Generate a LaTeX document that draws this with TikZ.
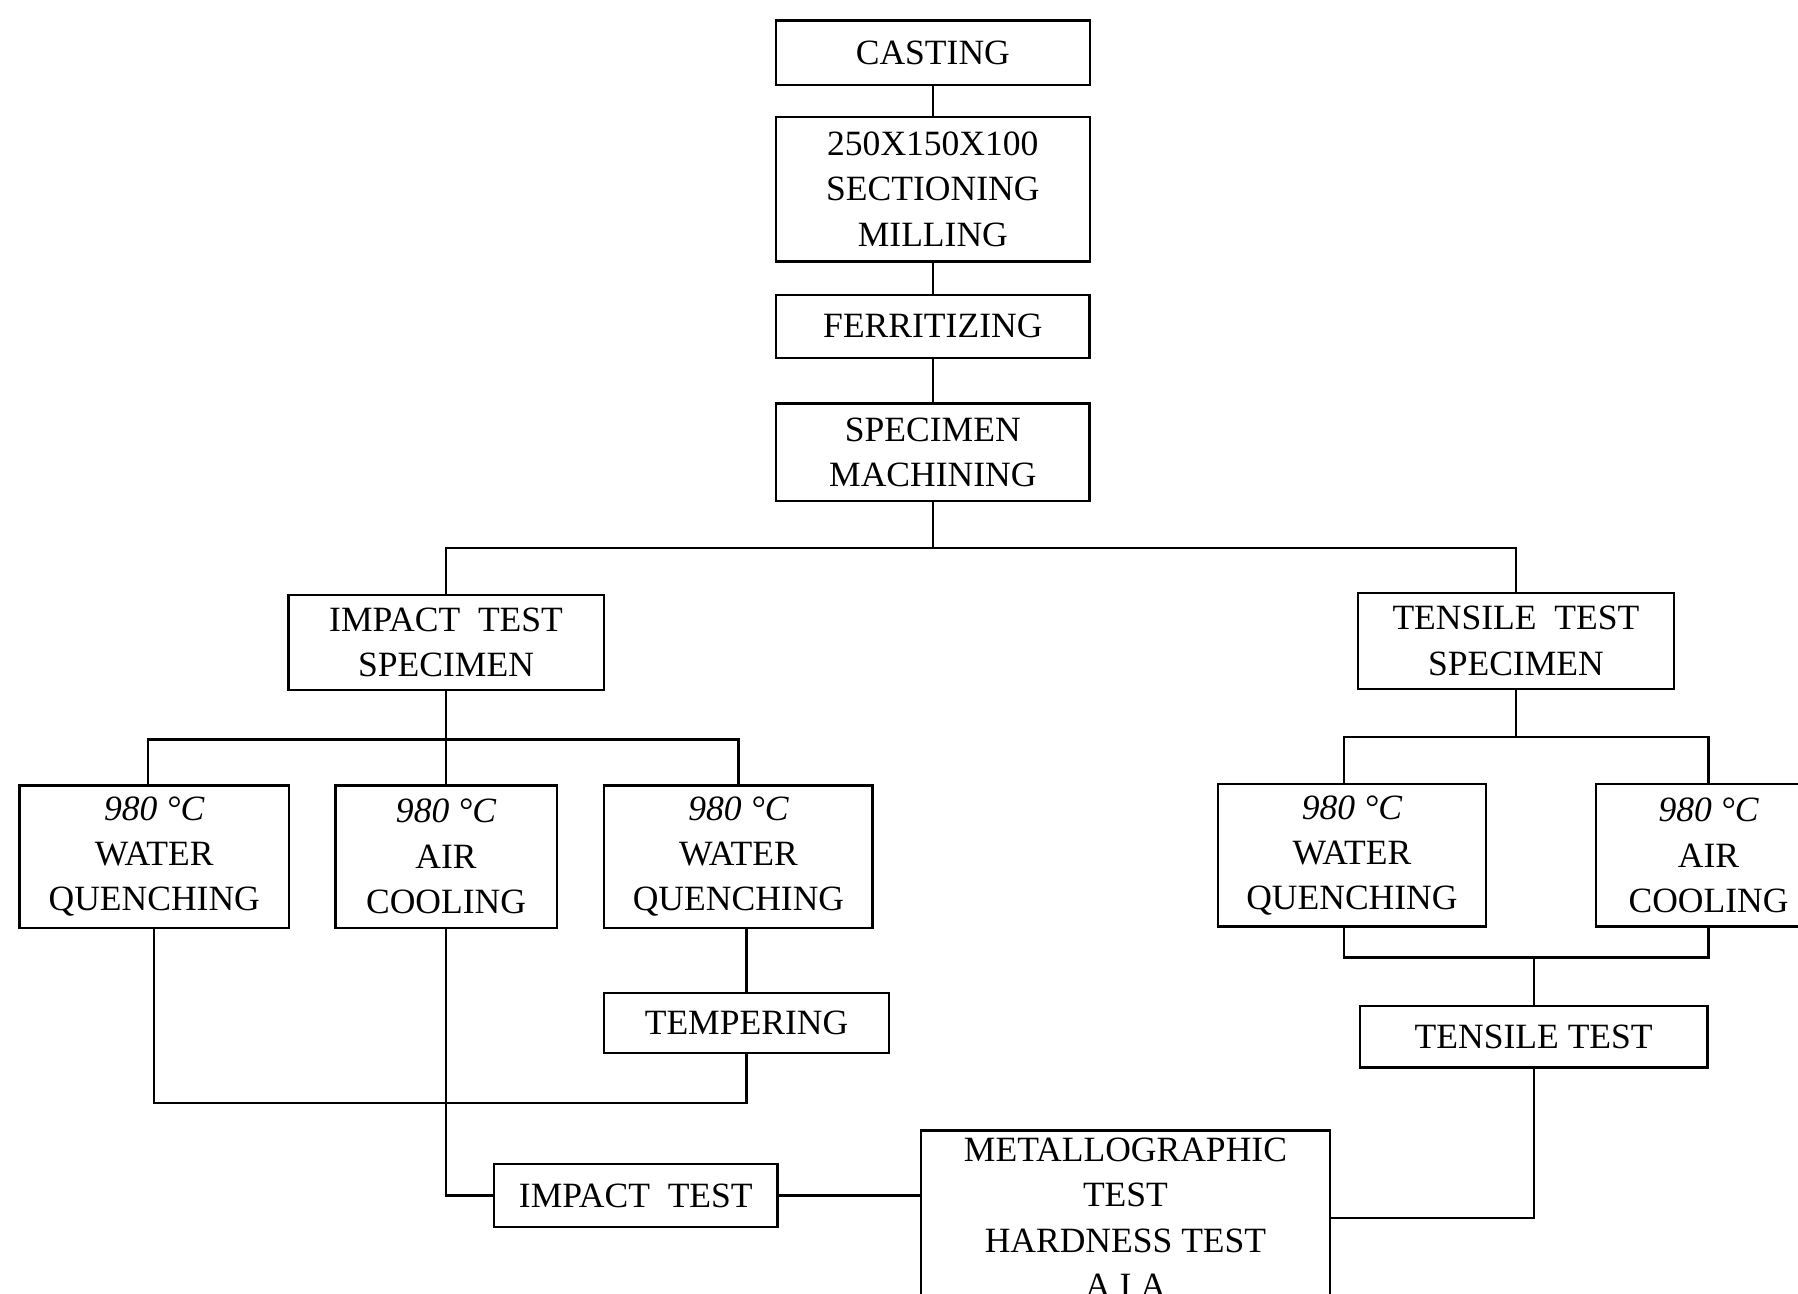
\documentclass[tikz,border=0pt]{standalone}
\usepackage{fontspec}
\setmainfont{Liberation Serif}
\usetikzlibrary{calc}
\begin{document}
\begin{tikzpicture}[x=0.5pt,y=-0.5pt,
  box/.style={draw,line width=1pt,rectangle,inner sep=0pt,align=center,
    font=\fontsize{15.5}{19.75}\selectfont},
  conn/.style={line width=1pt}]
\useasboundingbox (0,0) rectangle (1568,1128);
\clip (0,0) rectangle (1568,1128);
% main column
\node[box,minimum width=137pt,minimum height=28pt] (cast) at (813.5,46) {CASTING};
\node[box,minimum width=137pt,minimum height=63pt] (sect) at (813.5,165) {250X150X100\\SECTIONING\\MILLING};
\node[box,minimum width=136.5pt,minimum height=27.5pt] (ferr) at (813.5,284.5) {FERRITIZING};
\node[box,minimum width=136.5pt,minimum height=42.5pt] (mach) at (813.5,394.5) {SPECIMEN\\MACHINING};
% specimens
\node[box,minimum width=137.5pt,minimum height=41.5pt] (impspec) at (389,560.5) {IMPACT~~TEST\\SPECIMEN};
\node[box,minimum width=138pt,minimum height=42pt] (tenspec) at (1322,559) {TENSILE~~TEST\\SPECIMEN};
% left treatments
\node[box,minimum width=117.5pt,minimum height=62pt] (wq1) at (134.5,747) {{\itshape 980 °C}\\WATER\\QUENCHING};
\node[box,minimum width=96.5pt,minimum height=62pt] (ac1) at (389,747) {{\itshape 980 °C}\\AIR\\COOLING};
\node[box,minimum width=117pt,minimum height=62pt] (wq2) at (644,747) {{\itshape 980 °C}\\WATER\\QUENCHING};
\node[box,minimum width=124pt,minimum height=26pt] (temp) at (651,892) {TEMPERING};
% right treatments
\node[box,minimum width=117pt,minimum height=62pt] (wq3) at (1179,746) {{\itshape 980 °C}\\WATER\\QUENCHING};
\node[box,minimum width=98pt,minimum height=62pt] (ac2) at (1490,746) {{\itshape 980 °C}\\AIR\\COOLING};
\node[box,minimum width=151.5pt,minimum height=27pt] (tentest) at (1337.5,904) {TENSILE TEST};
% tests
\node[box,minimum width=123.5pt,minimum height=27.5pt] (impact) at (554.5,1042.5) {IMPACT~~TEST};
\node[box,minimum width=178.5pt,minimum height=76pt] (metal) at (981.5,1062) {METALLOGRAPHIC\\TEST\\HARDNESS TEST\\A I A};
% junction coordinates
\coordinate (b1) at (813.5,478);
\coordinate (b2) at (389,645);
\coordinate (b3) at (651,962);
\coordinate (b4) at (1322,643);
\coordinate (b5) at (1337.5,835);
% connectors
\draw[conn] (cast.south) -- (sect.north);
\draw[conn] (sect.south) -- (ferr.north);
\draw[conn] (ferr.south) -- (mach.north);
\draw[conn] (mach.south) -- (b1);
\draw[conn] (impspec.north) |- (b1) -| (tenspec.north);
\draw[conn] (impspec.south) -- (b2);
\draw[conn] ($(wq1.north)+(-5.5,0)$) |- (b2) -| (wq2.north);
\draw[conn] (b2) -- (ac1.north);
\draw[conn] (temp.north) -- (temp.north |- wq2.south);
\draw[conn] (wq1.south) |- (b3) -- (temp.south);
\draw[conn] (ac1.south) |- (impact.west);
\draw[conn] (impact.east) -- (impact.east -| metal.west);
\draw[conn] (metal.east) -| (tentest.south);
\draw[conn] (tenspec.south) -- (b4);
\draw[conn] ($(wq3.north)+(-7,0)$) |- (b4) -| (ac2.north);
\draw[conn] ($(wq3.south)+(-7,0)$) |- (b5) -| (ac2.south);
\draw[conn] (b5) -- (tentest.north);
\end{tikzpicture}
\end{document}
